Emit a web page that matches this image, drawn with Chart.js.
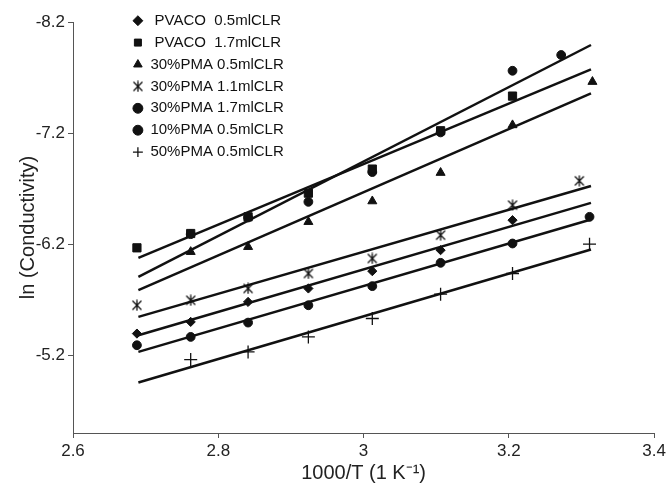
<!DOCTYPE html>
<html><head><meta charset="utf-8">
<script src="https://cdn.jsdelivr.net/npm/chart.js@4.4.1/dist/chart.umd.min.js"></script>
<style>html,body{margin:0;padding:0;background:#fff}</style>
</head><body>
<canvas id="c" width="669" height="490"></canvas>
<script>
// ---- data ----
const xTicks = [2.6, 2.8, 3.0, 3.2, 3.4];
const yTicks = [-8.2, -7.2, -6.2, -5.2];
const seriesNames = [' PVACO  0.5mlCLR', ' PVACO  1.7mlCLR', '30%PMA 0.5mlCLR', '30%PMA 1.1mlCLR', '30%PMA 1.7mlCLR', '10%PMA 0.5mlCLR', '50%PMA 0.5mlCLR'];

const pvaco05X = [2.688, 2.762, 2.841, 2.924, 3.012, 3.106, 3.205];
const pvaco05Y = [-5.395, -5.500, -5.680, -5.801, -5.957, -6.146, -6.416];
const pvaco17X = [2.688, 2.762, 2.841, 2.924, 3.012, 3.106, 3.205];
const pvaco17Y = [-6.167, -6.296, -6.446, -6.659, -6.876, -7.221, -7.533];
const pma30a05X = [2.762, 2.841, 2.924, 3.012, 3.106, 3.205, 3.315];
const pma30a05Y = [-6.131, -6.176, -6.401, -6.587, -6.843, -7.272, -7.662];
const pma30a11X = [2.688, 2.762, 2.841, 2.924, 3.012, 3.106, 3.205, 3.297];
const pma30a11Y = [-5.650, -5.695, -5.801, -5.936, -6.071, -6.281, -6.551, -6.770];
const pma30a17X = [2.762, 2.841, 2.924, 3.012, 3.106, 3.205, 3.272];
const pma30a17Y = [-6.290, -6.440, -6.581, -6.849, -7.206, -7.761, -7.903];
const pma10a05X = [2.688, 2.762, 2.841, 2.924, 3.012, 3.106, 3.205, 3.311];
const pma10a05Y = [-5.290, -5.365, -5.494, -5.650, -5.822, -6.032, -6.206, -6.446];
const pma50a05X = [2.762, 2.841, 2.924, 3.012, 3.106, 3.205, 3.311];
const pma50a05Y = [-5.161, -5.230, -5.365, -5.531, -5.750, -5.936, -6.200];

// fitted trend lines (end points)
const fitX = [2.69, 3.313];
const fitPvaco05 = [-5.380, -6.572];
const fitPvaco17 = [-6.077, -7.774];
const fitPma30a05 = [-5.786, -7.558];
const fitPma30a11 = [-5.545, -6.723];
const fitPma30a17 = [-5.905, -7.993];
const fitPma10a05 = [-5.230, -6.422];
const fitPma50a05 = [-4.954, -6.152];

// ---- build ----
const pts = (xs, ys) => xs.map((x, i) => ({x, y: ys[i]}));

function asterisk() {
  const c = document.createElement('canvas');
  c.width = 12; c.height = 12;
  const g = c.getContext('2d');
  g.strokeStyle = '#111'; g.lineWidth = 1.3;
  g.beginPath();
  g.moveTo(1.5, 1.5); g.lineTo(10.5, 10.5);
  g.moveTo(10.5, 1.5); g.lineTo(1.5, 10.5);
  g.moveTo(6, 0.5); g.lineTo(6, 11.5);
  g.stroke();
  return c;
}

const FONT = "'Liberation Sans', Arial, sans-serif";
const markerSets = [
  {xs: pvaco05X, ys: pvaco05Y, style: 'rectRot', r: 4.6},
  {xs: pvaco17X, ys: pvaco17Y, style: 'rect', r: 5.8},
  {xs: pma30a05X, ys: pma30a05Y, style: 'triangle', r: 5.2},
  {xs: pma30a11X, ys: pma30a11Y, style: asterisk(), r: 6},
  {xs: pma30a17X, ys: pma30a17Y, style: 'circle', r: 4.4},
  {xs: pma10a05X, ys: pma10a05Y, style: 'circle', r: 4.4},
  {xs: pma50a05X, ys: pma50a05Y, style: 'cross', r: 6.5}
];
const fits = [fitPvaco05, fitPvaco17, fitPma30a05, fitPma30a11, fitPma30a17, fitPma10a05, fitPma50a05];

const datasets = [];
markerSets.forEach((m, i) => {
  datasets.push({
    label: seriesNames[i],
    data: pts(m.xs, m.ys),
    pointStyle: m.style,
    pointRadius: m.r,
    pointHoverRadius: m.r,
    backgroundColor: '#111',
    borderColor: '#111',
    borderWidth: m.style === 'cross' ? 1.3 : 1,
    showLine: false
  });
});
fits.forEach((f) => {
  datasets.push({
    label: 'fit',
    data: pts(fitX, f),
    showLine: true,
    pointRadius: 0,
    borderColor: '#111',
    borderWidth: 2.5,
    isFit: true
  });
});

const placeLegend = {
  id: 'placeLegend',
  beforeDraw(chart) {
    const lg = chart.legend;
    const h = lg.height, w = lg.width;
    lg.left = 126; lg.top = 6.3;
    lg.right = lg.left + w; lg.bottom = lg.top + h;
  }
};

new Chart(document.getElementById('c'), {
  type: 'scatter',
  data: {datasets},
  plugins: [placeLegend],
  options: {
    responsive: false,
    animation: false,
    devicePixelRatio: 1,
    layout: {padding: {left: 0, top: 22, right: 14, bottom: 0}},
    plugins: {
      tooltip: {enabled: false},
      legend: {
        position: 'chartArea',
        align: 'start',
        labels: {
          usePointStyle: true,
          boxWidth: 10,
          boxHeight: 7,
          padding: 6.9,
          color: '#111',
          font: {family: FONT, size: 15},
          filter: (item, data) => !data.datasets[item.datasetIndex].isFit
        }
      }
    },
    scales: {
      x: {
        type: 'linear',
        min: 2.6, max: 3.4,
        afterBuildTicks: (s) => { s.ticks = xTicks.map(v => ({value: v})); },
        afterFit: (s) => { s.height = 57; },
        grid: {drawOnChartArea: false, drawTicks: true, tickLength: 5, color: '#555'},
        border: {display: true, color: '#555', width: 1},
        ticks: {color: '#222', padding: 3, font: {family: FONT, size: 17},
          callback: (v) => String(Math.round(v * 10) / 10)},
        title: {display: true, text: '1000/T (1 K\u207B\u00B9)', color: '#222',
          font: {family: FONT, size: 20}, padding: {top: 0, bottom: 5}}
      },
      y: {
        type: 'linear',
        reverse: true,
        min: -8.2, max: -4.5,
        afterBuildTicks: (s) => { s.ticks = yTicks.map(v => ({value: v})); },
        afterFit: (s) => { s.width = 73; },
        grid: {drawOnChartArea: false, drawTicks: true, tickLength: 5, color: '#555'},
        border: {display: true, color: '#555', width: 1},
        ticks: {color: '#222', padding: 3, font: {family: FONT, size: 17},
          callback: (v) => String(Math.round(v * 10) / 10)},
        title: {display: true, text: 'ln (Conductivity)', color: '#222',
          font: {family: FONT, size: 20}, padding: {top: 16, bottom: 0}}
      }
    }
  }
});
</script>
</body></html>
